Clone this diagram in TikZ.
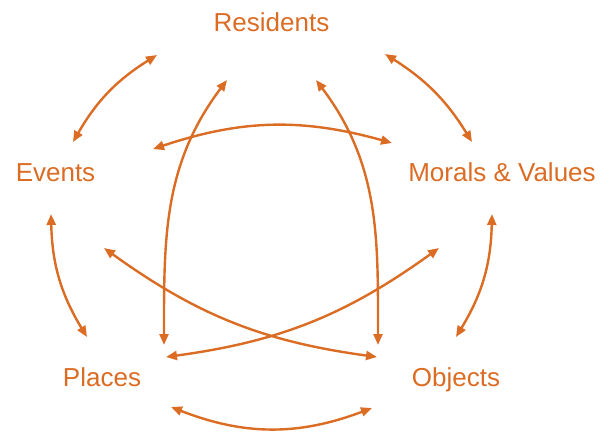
\documentclass[tikz,border=0pt]{standalone}
\usepackage{fontspec}
\setmainfont{Liberation Sans}
\usepackage{xcolor}
\usepackage{tikz}
\usetikzlibrary{arrows.meta}
\definecolor{rust}{RGB}{219,108,36}

\begin{document}
\begin{tikzpicture}[x=1pt,y=1pt,>={Triangle[length=11pt,width=9pt]},
    lbl/.style={anchor=base,text=rust,font=\fontsize{26}{30}\selectfont},
    link/.style={<->,rust,line width=2.4pt}]
  \useasboundingbox (0,0) rectangle (600,432);
  \node[lbl] (res) at (271.5,400) {Residents};
  \node[lbl] (evt) at (55.5,251) {Events};
  \node[lbl] (mor) at (502,251) {Morals \& Values};
  \node[lbl] (pla) at (102,46) {Places};
  \node[lbl] (obj) at (456,46) {Objects};
  % ends of the links
  \coordinate (ev-re) at (73,290);
  \coordinate (re-ev) at (157,377);
  \coordinate (re-mo) at (385,378);
  \coordinate (mo-re) at (472,290);
  \coordinate (ev-pl) at (51,218);
  \coordinate (pl-ev) at (87,95);
  \coordinate (mo-ob) at (492,218);
  \coordinate (ob-mo) at (456,95);
  \coordinate (pl-ob) at (171,25);
  \coordinate (ob-pl) at (372,24);
  \coordinate (ev-mo) at (153,283);
  \coordinate (mo-ev) at (392,289);
  \coordinate (pl-re) at (164,87);
  \coordinate (re-pl) at (227,352);
  \coordinate (ob-re) at (378,87);
  \coordinate (re-ob) at (316,352);
  \coordinate (ev-ob) at (104,184);
  \coordinate (ob-ev) at (377,75);
  \coordinate (mo-pl) at (439,184);
  \coordinate (pl-mo) at (166,75);
  % outer ring
  \draw[link] (ev-re) to[bend left=14] (re-ev);
  \draw[link] (re-mo) to[bend left=13] (mo-re);
  \draw[link] (ev-pl) to[bend right=15] (pl-ev);
  \draw[link] (mo-ob) to[bend left=15] (ob-mo);
  \draw[link] (pl-ob) to[bend right=21] (ob-pl);
  % inner links
  \draw[link] (ev-mo) to[bend left=17] (mo-ev);
  \draw[link] (pl-re) to[out=90,in=233] (re-pl);
  \draw[link] (ob-re) to[out=90,in=-53] (re-ob);
  \draw[link] (ev-ob) to[bend right=14] (ob-ev);
  \draw[link] (mo-pl) to[bend left=14] (pl-mo);
\end{tikzpicture}
\end{document}
